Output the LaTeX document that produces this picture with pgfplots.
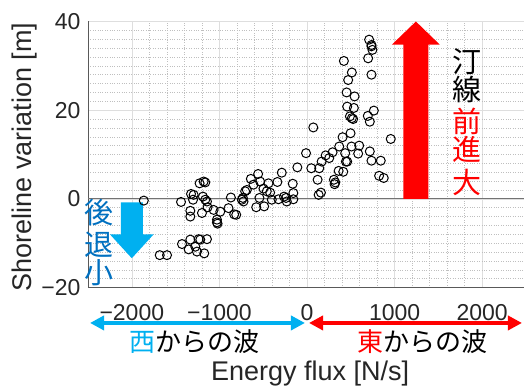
\documentclass[border=0pt]{standalone}
\usepackage{pgfplots}
\pgfplotsset{compat=1.18}
\usepackage{fontspec}
\setmainfont{Liberation Sans}
\newfontfamily\jp{Noto Sans CJK JP}
\usetikzlibrary{arrows.meta}
\definecolor{tickgray}{HTML}{262626}
\definecolor{cyanA}{HTML}{00B0F0}
\definecolor{blueT}{HTML}{0070C0}
\pgfplotstableread{
x y
-1863 -0.4
-1681 -12.7
-1598 -12.7
-1438 -0.7
-1427 -10.2
-1351 -11.4
-1332 -2.7
-1332 -4.0
-1324 1.1
-1301 -0.2
-1332 -9.2
-1294 0.9
-1275 -10.8
-1256 -11.9
-1237 -9.1
-1218 -9.2
-1226 3.5
-1199 -3.2
-1188 0.5
-1180 3.9
-1161 3.7
-1173 -12.3
-1142 -9.1
-1161 -0.2
-1142 -0.6
-1135 -1.9
-1066 -2.5
-1028 -4.7
-1028 -5.3
-1021 -5.6
-990 -2.9
-896 -2.1
-869 0.3
-831 -3.5
-808 -3.6
-744 -0.2
-725 -0.6
-732 0.2
-706 1.7
-687 2.0
-641 4.5
-611 3.2
-580 -1.9
-558 5.6
-543 0.2
-535 3.9
-497 2.3
-489 -1.7
-459 1.7
-440 3.5
-421 1.4
-402 -0.2
-338 3.8
-326 -0.1
-288 5.9
-262 0.5
-239 0.2
-231 -0.6
-163 3.4
-156 1.3
-156 -0.1
-110 7.1
-11 10.3
49 6.9
72 16.1
121 4.3
133 0.9
159 1.4
140 6.9
167 8.4
213 9.8
254 9.2
292 10.5
307 4.3
315 3.3
323 3.7
361 6.3
414 6.1
368 11.8
406 13.9
421 31.1
436 10.3
444 8.4
459 8.4
452 24.0
470 26.8
459 20.8
490 18.6
512 18.2
527 18.0
497 14.8
512 28.5
535 20.5
543 23.1
508 11.8
596 12.0
584 10.2
698 31.7
709 35.9
736 34.7
747 33.6
736 34.4
736 28.0
694 18.7
717 17.4
763 19.9
717 10.7
736 8.6
842 8.6
823 5.2
876 4.7
956 13.5
}\datatable
\begin{document}
\begin{tikzpicture}
\path[use as bounding box] (0,0) rectangle (524pt,387pt);
\begin{axis}[
  at={(88pt,99.5pt)}, anchor=south west,
  scale only axis, width=438pt, height=266pt,
  xmin=-2500, xmax=2500, ymin=-20, ymax=40,
  xtick={-2000,-1000,0,1000,2000},
  xticklabels={−2000,−1000,0,1000,2000},
  ytick={-20,0,20,40}, yticklabels={−20,0,20,40},
  minor x tick num=4, minor y tick num=9,
  grid=both,
  major grid style={draw=black!13, line width=0.6pt},
  minor grid style={draw=black!25, dotted, line width=0.5pt},
  axis x line*=bottom, axis y line*=left,
  axis line style={-, draw=black!65, line width=0.8pt},
  major tick length=0pt, minor tick length=0pt,
  ticklabel style={font=\fontsize{23}{23}\selectfont, text=tickgray},
  xticklabel style={yshift=-13pt},
  yticklabel style={xshift=-4pt},
  xlabel={Energy flux [N/s]},
  ylabel={Shoreline variation [m]},
  label style={font=\fontsize{27}{27}\selectfont, text=tickgray},
  xlabel style={at={(axis description cs:0.507,0)}, anchor=center, yshift=-86pt},
  ylabel style={at={(axis description cs:-0.1438,0.49)}, anchor=center},
  clip=false,
]
\draw[black!55, line width=1.3pt] (axis cs:-2500,0) -- (axis cs:2500,0);
\addplot[only marks, mark=o, mark size=4.5pt, mark options={line width=1.0pt, draw=black}] table[x=x,y=y] {\datatable};
% red arrow up
\fill[red] (axis cs:1100,0) -- (axis cs:1385,0) -- (axis cs:1385,34.8) -- (axis cs:1515,34.8) -- (axis cs:1243,40) -- (axis cs:970,34.8) -- (axis cs:1100,34.8) -- cycle;
% cyan arrow down
\fill[cyanA] (axis cs:-2125,-0.8) -- (axis cs:-1875,-0.8) -- (axis cs:-1875,-8.0) -- (axis cs:-1750,-8.0) -- (axis cs:-2000,-13.4) -- (axis cs:-2250,-8.0) -- (axis cs:-2125,-8.0) -- cycle;
% vertical texts
\begin{scope}[every node/.style={font=\jp\fontsize{29}{29}\selectfont, inner sep=0pt, anchor=center}]
\node[black] at (axis cs:1826,30.9) {汀};
\node[black] at (axis cs:1826,24.6) {線};
\node[red] at (axis cs:1826,17.4) {前};
\node[red] at (axis cs:1826,11.1) {進};
\node[red] at (axis cs:1826,3.8) {大};
\node[blueT] at (axis cs:-2375,-3.2) {後};
\node[blueT] at (axis cs:-2375,-10.4) {退};
\node[blueT] at (axis cs:-2375,-16.7) {小};
\end{scope}
% bottom arrows
\draw[cyanA, line width=3.5pt, {Triangle[length=14pt,width=14pt]}-{Triangle[length=14pt,width=14pt]}] (axis cs:-2477,-28.0) -- (axis cs:-23,-28.0);
\draw[red, line width=3.5pt, {Triangle[length=14pt,width=14pt]}-{Triangle[length=14pt,width=14pt]}] (axis cs:23,-28.0) -- (axis cs:2454,-28.0);
\node[font=\jp\fontsize{26}{26}\selectfont, inner sep=0pt, anchor=center] at (axis cs:-1279,-32.3) {\textcolor{cyanA}{西}からの波};
\node[font=\jp\fontsize{26}{26}\selectfont, inner sep=0pt, anchor=center] at (axis cs:1313,-32.3) {\textcolor{red}{東}からの波};
\end{axis}
\end{tikzpicture}
\end{document}
